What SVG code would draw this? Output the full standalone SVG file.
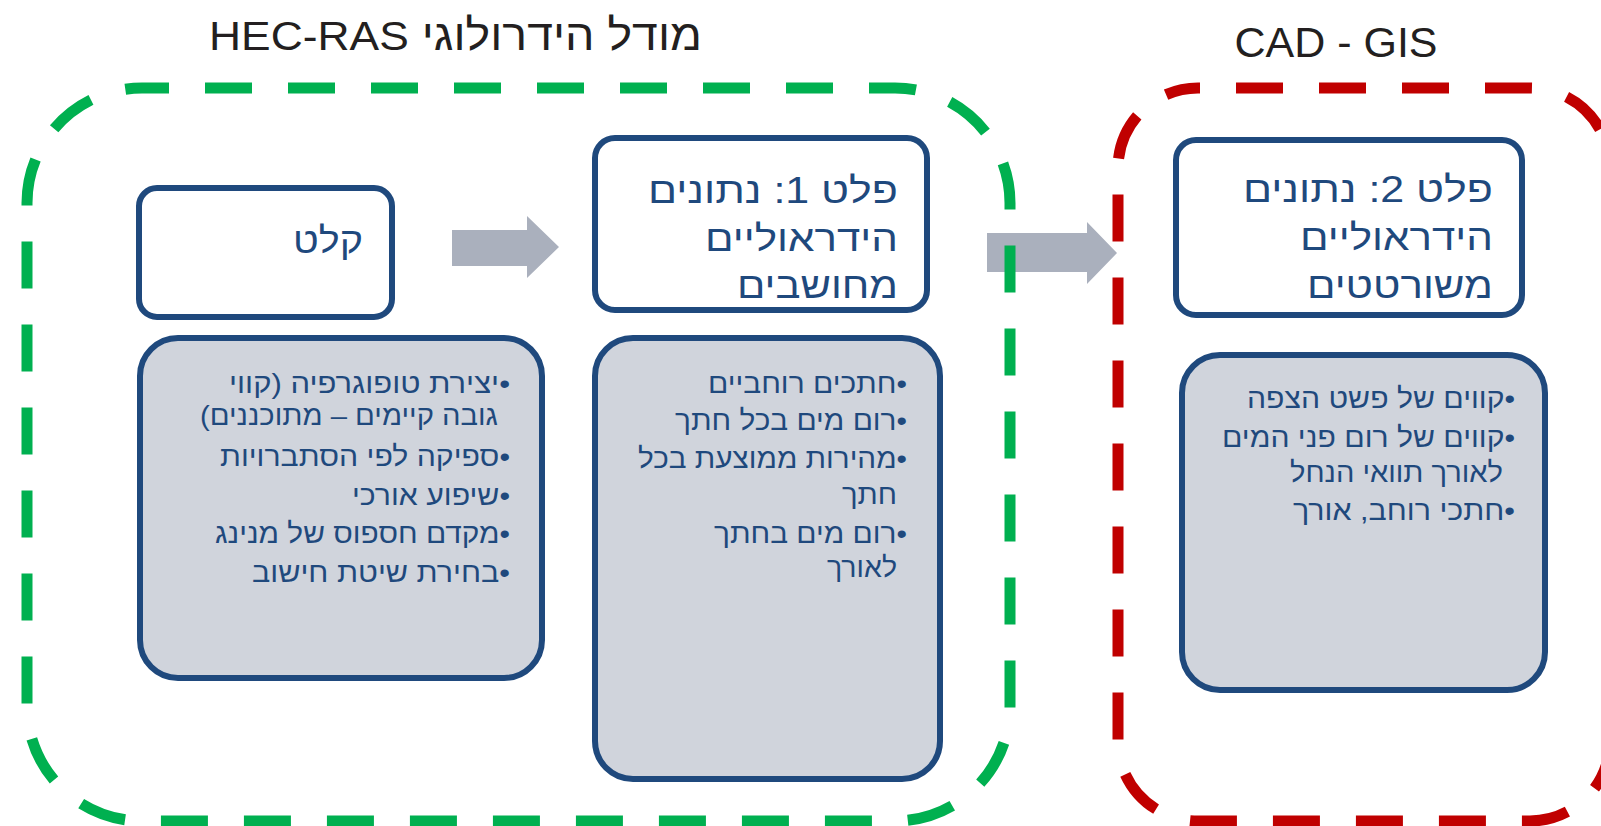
<svg xmlns="http://www.w3.org/2000/svg" width="1601" height="826" viewBox="0 0 1601 826">
<style>
.title{font-family:"Liberation Sans","DejaVu Sans",sans-serif;font-size:43px;fill:#231f20}
.latin{font-family:"Liberation Sans","DejaVu Sans",sans-serif;font-size:41px}
.head{font-family:"Liberation Sans","DejaVu Sans",sans-serif;font-size:36px;fill:#1f497d}
.item{font-family:"Liberation Sans","DejaVu Sans",sans-serif;font-size:28px;fill:#1f497d}
.rtl{direction:rtl;text-anchor:start}
.white{fill:#ffffff;stroke:#1f497d;stroke-width:6}
.gray{fill:#d0d4dc;stroke:#1f497d;stroke-width:6}
.arrow{fill:#aab0bd;stroke:none}
.dash{fill:none;stroke-width:11;stroke-dasharray:47 36}
</style>
<g id="connectors">
<polygon class="arrow" points="452,230 527,230 527,216 559,247 527,278 527,266 452,266"/>
<polygon class="arrow" points="987,233 1087,233 1087,222 1117,253 1087,284 1087,272 987,272"/>
</g>
<g id="hec-ras-group">
<path class="dash" stroke="#00b050" stroke-dashoffset="20" d="M142,88 H895 A115,115 0 0 1 1010,203 V706 A115,115 0 0 1 895,821 H142 A115,115 0 0 1 27,706 V203 A115,115 0 0 1 142,88 Z"/>
<text class="title rtl" x="702" y="50" textLength="493" lengthAdjust="spacingAndGlyphs">מודל הידרולוגי <tspan class="latin">HEC-RAS</tspan></text>
</g>
<g id="cad-gis-group">
<path class="dash" stroke="#c00000" stroke-dashoffset="45" d="M1198,88 H1530 A80,80 0 0 1 1610,168 V741 A80,80 0 0 1 1530,821 H1198 A80,80 0 0 1 1118,741 V168 A80,80 0 0 1 1198,88 Z"/>
<text class="title" x="1336" y="57" text-anchor="middle" font-size="42">CAD - GIS</text>
</g>
<g id="input">
<rect class="white" x="139" y="188" width="253" height="129" rx="18"/>
<text class="head rtl" x="363" y="253" textLength="70" lengthAdjust="spacingAndGlyphs">קלט</text>
</g>
<g id="input-details">
<rect class="gray" x="140" y="338" width="402" height="340" rx="38"/>
<text class="item rtl" x="510" y="393" textLength="281" lengthAdjust="spacingAndGlyphs">•יצירת טופוגרפיה (קווי</text>
<text class="item rtl" x="498" y="425" textLength="298" lengthAdjust="spacingAndGlyphs">גובה קיימים – מתוכננים)</text>
<text class="item rtl" x="510" y="466" textLength="290" lengthAdjust="spacingAndGlyphs">•ספיקה לפי הסתברויות</text>
<text class="item rtl" x="510" y="505" textLength="158" lengthAdjust="spacingAndGlyphs">•שיפוע אורכי</text>
<text class="item rtl" x="510" y="543" textLength="295" lengthAdjust="spacingAndGlyphs">•מקדם חספוס של מנינג</text>
<text class="item rtl" x="510" y="582" textLength="258" lengthAdjust="spacingAndGlyphs">•בחירת שיטת חישוב</text>
</g>
<g id="output1">
<rect class="white" x="595" y="138" width="332" height="172" rx="20"/>
<text class="head rtl" x="898" y="203" textLength="250" lengthAdjust="spacingAndGlyphs">פלט 1: נתונים</text>
<text class="head rtl" x="898" y="251" textLength="193" lengthAdjust="spacingAndGlyphs">הידראוליים</text>
<text class="head rtl" x="898" y="298" textLength="161" lengthAdjust="spacingAndGlyphs">מחושבים</text>
</g>
<g id="output1-details">
<rect class="gray" x="595" y="338" width="345" height="441" rx="38"/>
<text class="item rtl" x="907" y="393" textLength="199" lengthAdjust="spacingAndGlyphs">•חתכים רוחביים</text>
<text class="item rtl" x="907" y="430" textLength="232" lengthAdjust="spacingAndGlyphs">•רום מים בכל חתך</text>
<text class="item rtl" x="907" y="468" textLength="269" lengthAdjust="spacingAndGlyphs">•מהירות ממוצעת בכל</text>
<text class="item rtl" x="897" y="504" textLength="55" lengthAdjust="spacingAndGlyphs">חתך</text>
<text class="item rtl" x="907" y="543" textLength="193" lengthAdjust="spacingAndGlyphs">•רום מים בחתך</text>
<text class="item rtl" x="897" y="577" textLength="70" lengthAdjust="spacingAndGlyphs">לאורך</text>
</g>
<g id="output2">
<rect class="white" x="1176" y="140" width="346" height="175" rx="20"/>
<text class="head rtl" x="1493" y="202" textLength="250" lengthAdjust="spacingAndGlyphs">פלט 2: נתונים</text>
<text class="head rtl" x="1493" y="250" textLength="193" lengthAdjust="spacingAndGlyphs">הידראוליים</text>
<text class="head rtl" x="1493" y="298" textLength="186" lengthAdjust="spacingAndGlyphs">משורטטים</text>
</g>
<g id="output2-details">
<rect class="gray" x="1182" y="355" width="363" height="335" rx="38"/>
<text class="item rtl" x="1515" y="408" textLength="268" lengthAdjust="spacingAndGlyphs">•קווים של פשט הצפה</text>
<text class="item rtl" x="1515" y="447" textLength="293" lengthAdjust="spacingAndGlyphs">•קווים של רום פני המים</text>
<text class="item rtl" x="1503" y="482" textLength="213" lengthAdjust="spacingAndGlyphs">לאורך תוואי הנחל</text>
<text class="item rtl" x="1515" y="520" textLength="222" lengthAdjust="spacingAndGlyphs">•חתכי רוחב, אורך</text>
</g>
</svg>
